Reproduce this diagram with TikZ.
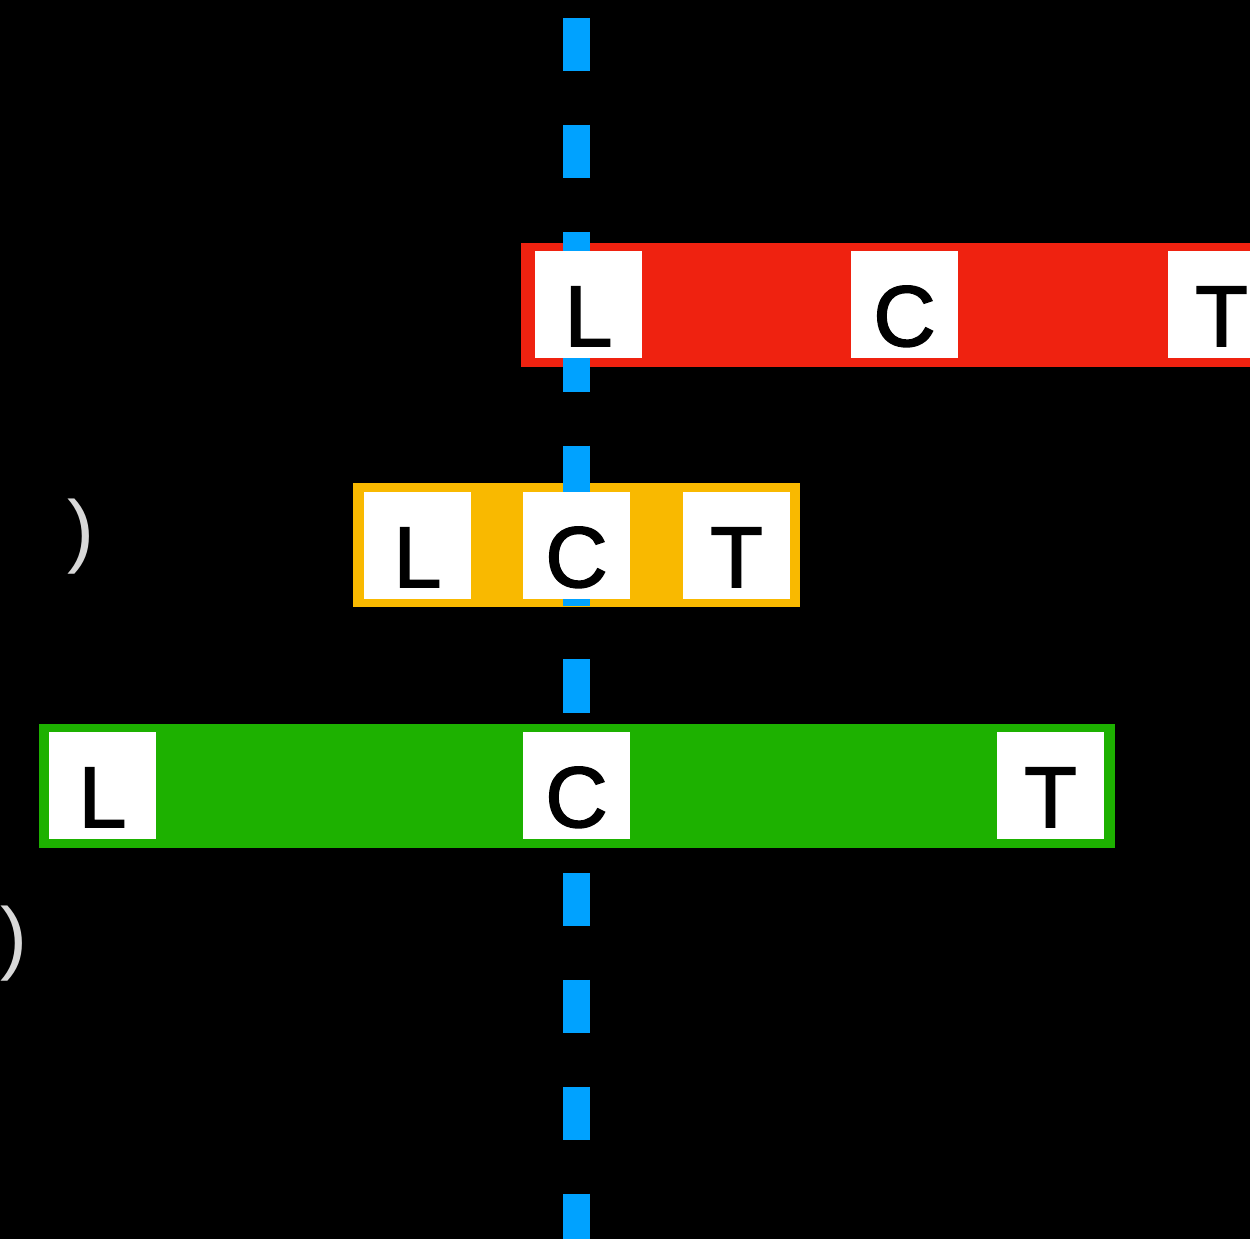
\documentclass[tikz,border=0pt]{standalone}
\usepackage{fontspec}
\setmainfont{Liberation Sans}
\newfontfamily\boxfont[FakeBold=2]{Liberation Sans}
\definecolor{barred}{RGB}{239,34,16}
\definecolor{baryellow}{RGB}{249,185,0}
\definecolor{bargreen}{RGB}{29,177,0}
\definecolor{lineblue}{RGB}{0,162,255}
\definecolor{parengray}{RGB}{216,216,216}

\begin{document}
\begin{tikzpicture}[x=0.02cm,y=-0.02cm,
	bar/.style={rectangle,inner sep=0pt,minimum height=2.48cm},
	letterbox/.style={rectangle,fill=white,inner sep=0pt,minimum width=2.14cm,minimum height=2.14cm,
		text height=1.66cm,text depth=0cm,font=\boxfont\fontsize{49}{49}\selectfont},
	paren/.style={inner sep=0pt,text=parengray,font=\fontsize{46}{46}\selectfont}]
	\useasboundingbox (0,0) rectangle (1250,1239);
	\fill[black] (0,0) rectangle (1250,1239);
	\node[bar,fill=barred,minimum width=15.36cm] (Rbar) at (905,305) {};
	\node[bar,fill=baryellow,minimum width=8.94cm] (Ybar) at (576.5,545) {};
	\node[bar,fill=bargreen,minimum width=21.52cm] (Gbar) at (577,786) {};
	\coordinate (Ltop) at (576.7,18);
	\coordinate (Lbot) at (576.7,1250);
	\draw[lineblue,line width=0.534cm,dash pattern=on 1.066cm off 1.072cm] (Ltop) -- (Lbot);
	\node[letterbox] (RL) at (588.5,304.5) {L};
	\node[letterbox] (RC) at (904.5,304.5) {C};
	\node[letterbox] (RT) at (1221.5,304.5) {T};
	\node[letterbox] (YL) at (417.5,545.5) {L};
	\node[letterbox] (YC) at (576.5,545.5) {C};
	\node[letterbox] (YT) at (736.5,545.5) {T};
	\node[letterbox] (GL) at (102.5,785.5) {L};
	\node[letterbox] (GC) at (576.5,785.5) {C};
	\node[letterbox] (GT) at (1050.5,785.5) {T};
	\node[paren] (P1) at (80.5,537) {)};
	\node[paren] (P2) at (13.5,943.5) {)};
\end{tikzpicture}
\end{document}
